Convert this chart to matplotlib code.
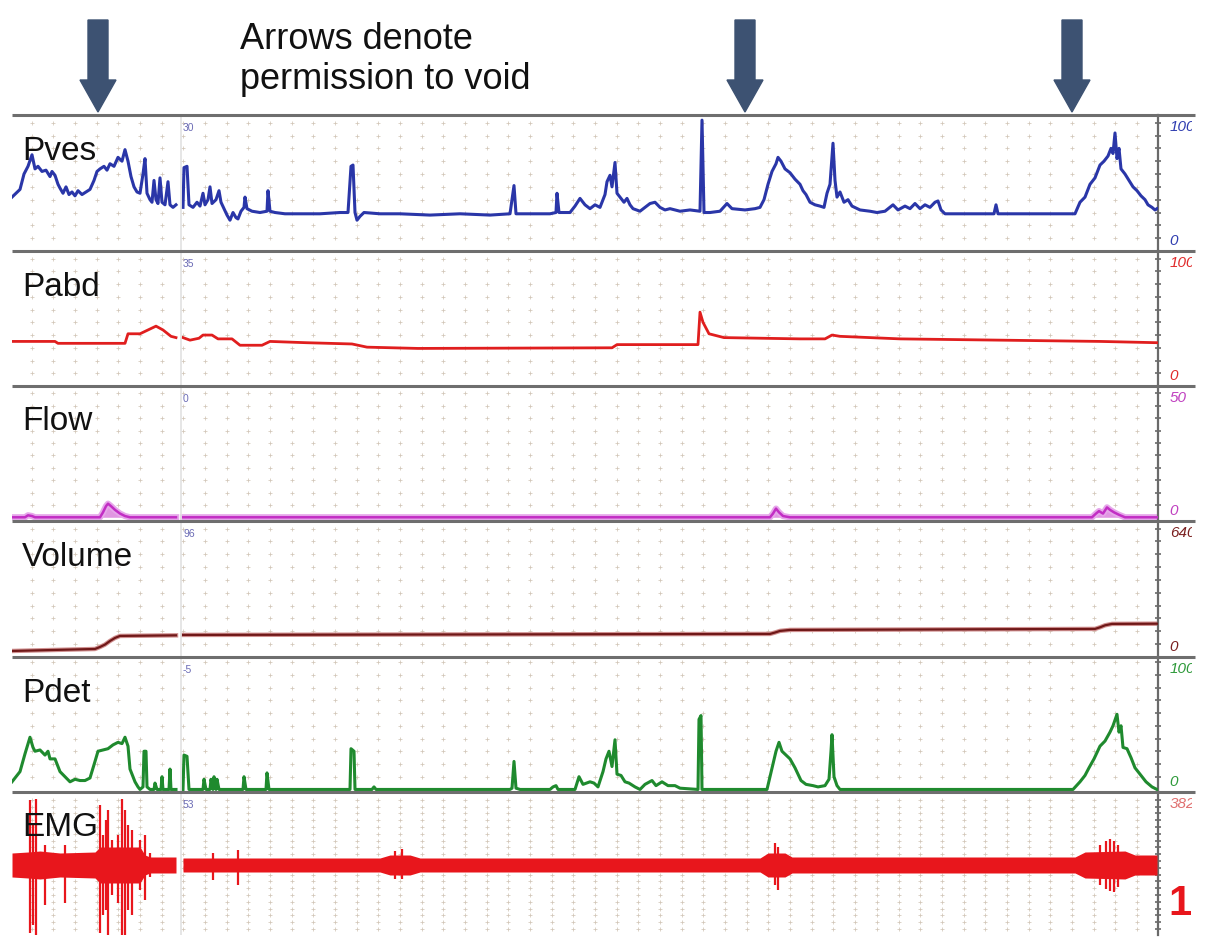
import numpy as np
import matplotlib
matplotlib.use("Agg")
import matplotlib.pyplot as plt
from matplotlib.patches import Polygon
from matplotlib.transforms import Bbox

W, H = 1205, 940
plt.rcParams['font.family'] = ['Liberation Sans', 'DejaVu Sans']

# x positions are sample times on the trace (same units for every channel)
# the recording has a break between 176 and 183
pves_t1 = [12, 16, 20, 24, 28, 32, 35, 38, 42, 46, 50, 52, 55, 58, 60, 63, 66, 69, 72, 75, 78, 82, 86, 90, 94, 97,
           100, 104, 107, 110, 114, 118, 122, 125, 128, 131, 134, 137, 140, 143, 145, 147, 150, 152, 154, 156, 158,
           160, 162, 165, 168, 170, 173, 176]
pves_v1 = [42, 45, 48, 60, 66, 75, 64, 66, 62, 63, 58, 62, 59, 52, 49, 45, 50, 44, 46, 43, 47, 44, 46, 48, 55, 62,
           64, 66, 63, 68, 66, 73, 70, 79, 70, 58, 50, 46, 45, 60, 72, 45, 40, 38, 55, 40, 37,
           57, 38, 36, 54, 36, 34, 36]
pves_t2 = [183, 184, 187, 189, 193, 197, 200, 203, 205, 208, 210, 212, 216, 219, 221, 224, 227, 230, 233, 236, 238,
           241, 244, 245, 247, 252, 260, 267, 268, 270, 275, 285, 300, 320, 340, 348, 351, 353, 355, 357, 360, 364,
           380, 400, 430, 460, 490, 510, 514, 516, 530, 550, 556, 557, 559, 570, 575, 580, 585, 590, 595, 600, 605,
           607, 610, 612, 615, 617, 620, 624, 627, 630, 633, 640, 645, 650, 655, 660, 665, 670, 680, 690, 700, 702,
           704, 710, 720, 727, 732, 745, 755, 760, 764, 768, 772, 776, 778, 781, 785, 790, 795, 800, 803, 806, 810,
           815, 820, 824, 827, 830, 833, 835, 837, 840, 844, 848, 852, 860, 870, 877, 885, 893, 898, 905, 910, 915,
           920, 925, 930, 935, 938, 941, 945, 960, 980, 994, 996, 998, 1020, 1050, 1075, 1080, 1085, 1090, 1095,
           1100, 1104, 1108, 1111, 1113, 1115, 1117, 1119, 1121, 1125, 1129, 1133, 1137, 1141, 1145, 1148, 1152,
           1155, 1157]
pves_v2 = [34, 65, 66, 36, 34, 38, 35, 45, 36, 40, 50, 37, 40, 47, 38, 33, 28, 24, 30, 26, 25,
           31, 34, 42, 33, 31, 30, 31, 47, 31, 30, 29, 29, 29, 30, 30, 66, 67, 30, 24, 27, 30,
           29, 29, 28, 29, 28, 29, 51, 29, 29, 29, 30, 45, 30, 30, 35, 41, 36, 33, 36, 34, 44,
           54, 59, 50, 69, 45, 42, 38, 41, 36, 33, 31, 34, 37, 38, 34, 32, 33, 31, 32, 31, 102,
           30, 30, 31, 37, 33, 32, 33, 34, 40, 52, 62, 68, 73, 70, 64, 61, 56, 52, 47, 44, 38,
           36, 35, 34, 45, 52, 84, 55, 42, 46, 38, 40, 35, 32, 31, 30, 31, 36, 32, 35, 33, 37,
           33, 36, 34, 38, 39, 32, 29, 29, 29, 29, 36, 29, 29, 29, 29, 38, 42, 52, 57,
           67, 70, 74, 80, 76, 92, 72, 80, 64, 60, 55, 50, 47, 43, 40, 36, 34,
           32, 33]

pabd_t1 = [12, 55, 58, 125, 128, 140, 148, 156, 163, 171, 176]
pabd_v1 = [35, 35, 33.5, 33.5, 41, 41, 44, 47, 44, 39, 38]
pabd_t2 = [183, 190, 199, 203, 212, 218, 232, 240, 262, 270, 306, 352, 367, 418, 612, 617, 698, 700, 703, 709,
           724, 800, 825, 832, 840, 900, 1000, 1100, 1157]
pabd_v2 = [38, 36, 37.5, 40, 40, 37, 37, 32, 32, 35, 34, 33, 30.5, 29.5, 30, 32.5, 32.5, 58, 50, 41,
           38, 37, 37, 40, 39, 37, 36, 35, 34]

flow_t1 = [12, 25, 28, 32, 35, 100, 103, 106, 108, 111, 115, 120, 125, 130, 176]
flow_v1 = [0, 0, 0.8, 0.5, 0, 0, 2, 4.5, 5.5, 4.5, 3, 1.5, 0.5, 0, 0]
flow_t2 = [183, 770, 773, 776, 779, 783, 790, 1092, 1096, 1099, 1103, 1107, 1110, 1114, 1119, 1125, 1157]
flow_v2 = [0, 0, 1.5, 3.5, 2, 0.5, 0, 0, 1.5, 2.5, 1.5, 4, 3, 2, 1, 0, 0]

vol_t1 = [12, 95, 100, 105, 110, 115, 120, 176]
vol_v1 = [30, 40, 50, 62, 80, 95, 105, 108]
vol_t2 = [183, 770, 775, 780, 790, 1095, 1100, 1105, 1112, 1157]
vol_v2 = [110, 115, 122, 130, 135, 140, 148, 158, 165, 166]

pdet_t1 = [12, 16, 20, 25, 30, 33, 35, 40, 45, 48, 50, 55, 58, 60, 65, 70, 75, 80, 85, 90, 95, 98, 103, 108,
           113, 118, 122, 125, 128, 130, 133, 135, 138, 140, 143, 144, 146, 147, 150, 154, 155, 157, 161, 162,
           163, 169, 170, 171, 176]
pdet_v1 = [6, 10, 14, 28, 41, 33, 30, 31, 27, 30, 24, 24, 18, 14, 10, 6, 8, 7, 7, 9, 22, 30, 31, 32,
           35, 37, 36, 41, 34, 16, 10, 6, 2, 0, 2, 30, 30, 2, 0, 0, 5, 0, 0, 10,
           0, 0, 16, 0, 0]
pdet_t2 = [183, 184, 187, 189, 203, 204, 206, 210, 211, 213, 214, 216, 217, 219, 243, 244, 246, 266, 267, 269,
           350, 351, 354, 355, 372, 374, 376, 510, 512, 514, 516, 520, 550, 553, 556, 558, 575, 579, 583, 590,
           594, 598, 603, 606, 609, 612, 615, 617, 621, 625, 629, 635, 640, 645, 652, 656, 662, 668, 675, 680,
           698, 699, 701, 702, 767, 770, 773, 776, 779, 782, 786, 790, 795, 801, 806, 813, 818, 825, 829, 831,
           832, 834, 837, 840, 1073, 1080, 1085, 1089, 1094, 1100, 1105, 1110, 1113, 1117, 1119, 1121, 1123,
           1127, 1131, 1135, 1140, 1146, 1152, 1157]
pdet_v2 = [0, 27, 26, 0, 0, 8, 0, 0, 8, 0, 10, 0, 8, 0, 0, 10, 0, 0, 13, 0,
           0, 32, 30, 0, 0, 2, 0, 0, 1, 22, 1, 0, 0, 2, 3, 0, 0, 10, 4, 6,
           5, 2, 14, 24, 30, 18, 39, 12, 11, 6, 5, 2, 0, 4, 7, 3, 6, 3, 3, 1,
           0, 55, 58, 0, 0, 10, 20, 30, 37, 30, 27, 24, 17, 7, 4, 3, 2, 3, 8, 30,
           43, 10, 3, 0, 0, 6, 11, 17, 24, 34, 38, 45, 50, 59, 45, 50, 33,
           32, 25, 17, 12, 6, 2, 0]

# EMG: envelope half-height and individual bursts (top, bottom), in display units
emg_env_t1 = [12, 28, 40, 60, 95, 100, 140, 145, 150, 176]
emg_env_v1 = [12, 13, 14, 12, 13, 18, 18, 10, 8, 8]
emg_env_t2 = [183, 380, 390, 410, 420, 760, 768, 785, 792, 1075, 1085, 1125, 1135, 1157]
emg_env_v2 = [7, 7, 10, 10, 7, 7, 12, 12, 8, 8, 13, 14, 10, 10]
emg_burst_t = [30, 33, 36, 45, 65, 100, 103, 106, 108, 112, 118, 122, 125, 128, 132, 140, 145, 150,
               213, 238, 395, 402, 775, 778, 1100, 1106, 1110, 1114, 1118]
emg_burst_hi = [65, 40, 66, 20, 20, 60, 30, 45, 55, 25, 30, 66, 55, 40, 35, 25, 30, 12,
                12, 15, 14, 16, 22, 18, 20, 24, 26, 24, 20]
emg_burst_lo = [-68, -60, -70, -40, -38, -68, -50, -45, -70, -30, -38, -70, -70, -45, -50, -25, -35, -12,
                -15, -20, -14, -14, -20, -25, -20, -24, -26, -27, -22]

void_times = [98, 745, 1072]

channels = ["Pves", "Pabd", "Flow", "Volume", "Pdet", "EMG"]
scale_top = ["100", "100", "50", "640", "100", "382"]
scale_bot = ["0", "0", "0", "0", "0", ""]
offsets = ["30", "35", "0", "96", "-5", "53"]

# ---------------------------------------------------------------------------
sep_y = [115, 251, 386, 521, 657, 792, 935]
x0, x1 = 12, 1158
lab_col = ["#2f3db0", "#e02a2a", "#c040c0", "#7a1f1f", "#2e9a3a", "#e07070"]

fig = plt.figure(figsize=(W / 100, H / 100), dpi=100)
fig.patch.set_facecolor("white")
# the scale labels on the right are cut off by the edge of the source picture
edge_clip = Bbox.from_extents(0, 0, 1192, H)

grid_x = np.arange(31.7, x1 - 5, 21.67)
ylims = [(0, 106), (0, 106), (-1.5, 53), (0, 678), (-2, 104), (-70, 73)]
rows = [np.arange(10, 101, 10), np.arange(10, 101, 10), np.arange(5, 51, 5),
        np.arange(64, 641, 64), np.arange(10, 101, 10), np.arange(-64, 70, 6.8)]

axes = []
for i, name in enumerate(channels):
    top, bot = sep_y[i], sep_y[i + 1]
    ax = fig.add_axes([x0 / W, 1 - bot / H, (x1 - x0) / W, (bot - top) / H])
    ax.set_xlim(x0, x1)
    ax.set_ylim(*ylims[i])
    ax.patch.set_alpha(0)
    for s in ["top", "bottom", "left"]:
        ax.spines[s].set_visible(False)
    ax.spines["right"].set_color("#6a6a6a")
    ax.spines["right"].set_linewidth(1.6)
    ax.set_xticks([])
    ax.set_yticks(rows[i])
    ax.yaxis.tick_right()
    ax.tick_params(axis="y", direction="inout", length=5, width=1.2, color="#6a6a6a",
                   labelright=False)
    gx, gy = np.meshgrid(grid_x, rows[i])
    ax.scatter(gx.ravel(), gy.ravel(), marker="+", s=6, linewidths=0.55, color="#d2c6b8", zorder=1)
    ax.text(10 / (x1 - x0), 1 - 36 / (bot - top), name, transform=ax.transAxes,
            fontsize=24, color="#111111", va="center", ha="left", zorder=5)
    ax.text((183 - x0) / (x1 - x0), 1 - 13 / (bot - top), offsets[i], transform=ax.transAxes,
            fontsize=7.5, color="#6b6bb5", va="center", ha="left")
    t = ax.text(1 + 12 / (x1 - x0), 1 - 12 / (bot - top), scale_top[i], transform=ax.transAxes,
                fontsize=11, style="italic", color=lab_col[i], va="center", ha="left")
    t.set_clip_on(True)
    t.set_clip_box(edge_clip)
    if scale_bot[i]:
        ax.text(1 + 11 / (x1 - x0), 10 / (bot - top), scale_bot[i], transform=ax.transAxes,
                fontsize=11, style="italic", color=lab_col[i], va="center", ha="left", clip_on=False)
    axes.append(ax)

ax_pves, ax_pabd, ax_flow, ax_vol, ax_pdet, ax_emg = axes

for t, v in [(pves_t1, pves_v1), (pves_t2, pves_v2)]:
    ax_pves.plot(t, v, color="#2a36a8", lw=2.2, zorder=3)
for t, v in [(pabd_t1, pabd_v1), (pabd_t2, pabd_v2)]:
    ax_pabd.plot(t, v, color="#e01e1e", lw=2.0, zorder=3)
for t, v in [(flow_t1, flow_v1), (flow_t2, flow_v2)]:
    ax_flow.plot(t, v, color="#e6a6ea", lw=4.5, zorder=2)
    ax_flow.plot(t, v, color="#c22ec4", lw=1.8, zorder=3)
    ax_flow.fill_between(t, 0, v, color="#c22ec4", alpha=0.5, lw=0)
for t, v in [(vol_t1, vol_v1), (vol_t2, vol_v2)]:
    ax_vol.plot(t, v, color="#d09090", lw=3.2, zorder=2)
    ax_vol.plot(t, v, color="#701818", lw=1.6, zorder=3)
for t, v in [(pdet_t1, pdet_v1), (pdet_t2, pdet_v2)]:
    ax_pdet.plot(t, v, color="#1f8a2e", lw=2.2, zorder=3)
for t, v in [(emg_env_t1, emg_env_v1), (emg_env_t2, emg_env_v2)]:
    v = np.array(v)
    ax_emg.fill_between(t, -v, v, color="#e8161c", lw=0, zorder=3)
ax_emg.vlines(emg_burst_t, emg_burst_lo, emg_burst_hi, color="#e8161c", lw=1.6, zorder=3)
one = ax_emg.text(1 + 10 / (x1 - x0), 0.22, "1", transform=ax_emg.transAxes, fontsize=30,
                  fontweight="bold", color="#e8161c", va="center", ha="left")
one.set_clip_on(True)
one.set_clip_box(edge_clip)

# overlay in pixel coordinates: separators, break line, arrows, note
ov = fig.add_axes([0, 0, 1, 1], zorder=10)
ov.set_xlim(0, W)
ov.set_ylim(H, 0)
ov.axis("off")
ov.patch.set_alpha(0)
ov.hlines(sep_y[:-1], x0, 1195, color="#6e6e6e", lw=2.2)
ov.vlines(181, sep_y[0], sep_y[-1], color="#e2e2e2", lw=1.2, zorder=0)
for vt in void_times:
    shaft = 10
    head = 18
    pts = [(vt - shaft, 20), (vt + shaft, 20), (vt + shaft, 80), (vt + head, 80),
           (vt, 112), (vt - head, 80), (vt - shaft, 80)]
    ov.add_patch(Polygon(pts, closed=True, color="#3d5272"))
ov.text(240, 22, "Arrows denote\npermission to void", fontsize=26, color="#111111",
        va="top", ha="left", linespacing=1.2)

fig.savefig("out.png", dpi=100)
